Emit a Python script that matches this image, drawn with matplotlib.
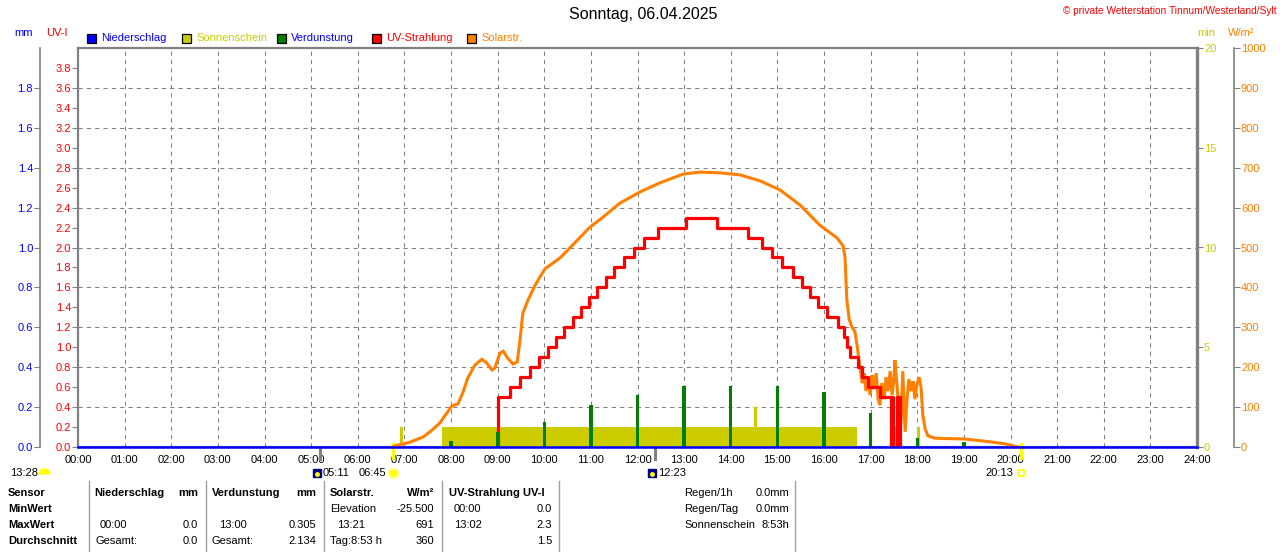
import numpy as np
import matplotlib
matplotlib.use('Agg')
import matplotlib.pyplot as plt
from matplotlib.lines import Line2D
from matplotlib.patches import Rectangle
from matplotlib.transforms import offset_copy

plt.rcParams['font.family'] = ['Liberation Sans', 'DejaVu Sans']
plt.rcParams['font.size'] = 8

# ---- data --------------------------------------------------------------
title = 'Sonntag, 06.04.2025'
station = '\u00a9 private Wetterstation Tinnum/Westerland/Sylt'

# Solarstrahlung W/m2
solar_h = [6.75, 6.80, 7.12, 7.40, 7.55, 7.76, 7.91, 8.02, 8.15, 8.26, 8.36,
           8.51, 8.66, 8.77, 8.88, 8.94, 9.05, 9.12, 9.22, 9.33, 9.42, 9.48,
           9.54, 9.65, 9.78, 9.90, 10.02, 10.34, 10.55, 10.98, 11.26, 11.62,
           12.05, 12.48, 12.98, 13.34, 13.77, 14.20, 14.63, 15.06, 15.49,
           15.91, 16.28, 16.41, 16.45, 16.49, 16.54, 16.60, 16.66, 16.71,
           16.73, 16.77, 16.82, 16.86, 16.90, 16.94, 16.99, 17.03, 17.07,
           17.12, 17.16, 17.20, 17.24, 17.29, 17.33, 17.37, 17.42, 17.46,
           17.50, 17.52, 17.57, 17.61, 17.65, 17.69, 17.74, 17.78, 17.82,
           17.87, 17.91, 17.95, 17.99, 18.04, 18.08, 18.12, 18.17, 18.23,
           18.38, 19.02, 19.56, 19.88, 20.16]
solar_w = [0, 3, 12, 25, 38, 60, 85, 103, 108, 138, 173,
           205, 220, 210, 193, 198, 235, 240, 222, 208, 213, 268,
           335, 368, 400, 425, 447, 474, 499, 551, 576, 611,
           639, 662, 684, 689, 687, 682, 667, 644, 606,
           556, 524, 504, 476, 368, 320, 300, 290, 255,
           236, 200, 160, 185, 140, 175, 130, 180, 150,
           185, 120, 105, 160, 120, 175, 140, 190, 130,
           170, 218, 150, 70, 60, 190, 38, 120, 170,
           140, 165, 120, 155, 175, 150, 80, 45, 28,
           22, 20, 13, 8, 0]

# UV-Index (steps)
uv_h = [9.00, 9.01, 9.27, 9.48, 9.69, 9.89, 10.08, 10.25, 10.42, 10.62, 10.79,
        10.96, 11.13, 11.32, 11.50, 11.71, 11.92, 12.14, 12.44, 13.04, 13.71,
        14.37, 14.67, 14.88, 15.10, 15.34, 15.53, 15.70, 15.87, 16.06, 16.30,
        16.43, 16.49, 16.56, 16.73, 16.82, 16.94, 17.20, 17.44, 17.46, 17.48,
        17.50, 17.57, 17.59, 17.61, 17.63]
uv_i = [0.0, 0.5, 0.6, 0.7, 0.8, 0.9, 1.0, 1.1, 1.2, 1.3, 1.4,
        1.5, 1.6, 1.7, 1.8, 1.9, 2.0, 2.1, 2.2, 2.3, 2.2,
        2.1, 2.0, 1.9, 1.8, 1.7, 1.6, 1.5, 1.4, 1.3, 1.2,
        1.1, 1.0, 0.9, 0.8, 0.7, 0.6, 0.5, 0.0, 0.5, 0.0,
        0.0, 0.5, 0.0, 0.5, 0.0]

# Sonnenschein in min (start, end, value)
sun_start = [6.90, 7.81, 14.50, 17.53, 18.00]
sun_end = [6.97, 16.71, 14.56, 17.56, 18.06]
sun_min = [1, 1, 2, 1, 1]

# Verdunstung mm per hour
evap_h = [8, 9, 10, 11, 12, 13, 14, 15, 16, 17, 18, 19]
evap_mm = [0.03, 0.075, 0.125, 0.21, 0.26, 0.305, 0.305, 0.305, 0.276, 0.17,
           0.045, 0.025]

# Niederschlag mm
rain_h = [0, 24]
rain_mm = [0.0, 0.0]

# sun / moon events
moon_times = [5 + 11 / 60, 12 + 23 / 60]
moon_labels = ['05:11', '12:23']
sunrise, sunrise_label = 6.75, '06:45'
sunset, sunset_label = 20 + 13 / 60, '20:13'
day_length = '13:28'

uv_ticks = [round(0.2 * i, 1) for i in range(20)]
mm_ticks = [round(0.2 * i, 1) for i in range(10)]
min_ticks = [0, 5, 10, 15, 20]
w_ticks = list(range(0, 1001, 100))
hours = list(range(25))

legend_labels = ['Niederschlag', 'Sonnenschein', 'Verdunstung', 'UV-Strahlung', 'Solarstr.']
legend_box = ['#0000ff', '#cccc00', '#008000', '#ff0000', '#ff8000']
legend_txt = ['#0000ff', '#cccc00', '#0000ff', '#ff0000', '#ff8000']

# table below the chart
table_rows = ['Sensor', 'MinWert', 'MaxWert', 'Durchschnitt']
tbl = [
    # (x, ha, bold, row, text)
    (94, 'left', True, 0, 'Niederschlag'), (198, 'right', True, 0, 'mm'),
    (100, 'left', False, 2, '00:00'), (198, 'right', False, 2, '0.0'),
    (95, 'left', False, 3, 'Gesamt:'), (198, 'right', False, 3, '0.0'),
    (212, 'left', True, 0, 'Verdunstung'), (316, 'right', True, 0, 'mm'),
    (219, 'left', False, 2, '13:00'), (316, 'right', False, 2, '0.305'),
    (212, 'left', False, 3, 'Gesamt:'), (316, 'right', False, 3, '2.134'),
    (330, 'left', True, 0, 'Solarstr.'), (434, 'right', True, 0, 'W/m\u00b2'),
    (330, 'left', False, 1, 'Elevation'), (434, 'right', False, 1, '-25.500'),
    (337, 'left', False, 2, '13:21'), (434, 'right', False, 2, '691'),
    (330, 'left', False, 3, 'Tag:8:53 h'), (434, 'right', False, 3, '360'),
    (449, 'left', True, 0, 'UV-Strahlung UV-I'),
    (454, 'left', False, 1, '00:00'), (552, 'right', False, 1, '0.0'),
    (454, 'left', False, 2, '13:02'), (552, 'right', False, 2, '2.3'),
    (552, 'right', False, 3, '1.5'),
    (684, 'left', False, 0, 'Regen/1h'), (789, 'right', False, 0, '0.0mm'),
    (684, 'left', False, 1, 'Regen/Tag'), (789, 'right', False, 1, '0.0mm'),
    (684, 'left', False, 2, 'Sonnenschein'), (789, 'right', False, 2, '8:53h'),
]
row_y = [493, 509, 525, 541]
sep_x = [89, 206, 324, 442, 559, 795]

GRAY = '#808080'


def fx(px):
    return px / 1280


def fy(py):
    return 1 - py / 552


fig = plt.figure(figsize=(12.8, 5.52), dpi=100)
ax = fig.add_axes([fx(78), fy(447), 1119 / 1280, 399 / 552])
ax.set_xlim(0, 24)
ax.set_ylim(0, 4)

# grid
for h in hours[1:-1]:
    ax.axvline(h, color=GRAY, lw=0.75, ls=(0, (4, 4)), zorder=0)
for v in uv_ticks[2::2]:
    ax.axhline(v, color=GRAY, lw=0.75, ls=(0, (4, 4)), zorder=0)

ax.set_xticks(hours)
ax.set_xticklabels(['%02d:00' % h for h in hours])
ax.tick_params(axis='x', length=0, pad=6)
ax.set_yticks(uv_ticks)
ax.set_yticklabels(['%.1f' % v for v in uv_ticks])
ax.tick_params(axis='y', length=4, color=GRAY, labelcolor='#ff0000', pad=1)
for s in ['top', 'left', 'bottom']:
    ax.spines[s].set_color(GRAY)
    ax.spines[s].set_linewidth(1.6)
ax.spines['right'].set_visible(False)

# sunshine (min)
ax_min = ax.twinx()
ax_min.set_ylim(0, 20)
ax_min.bar(sun_start, sun_min, width=np.subtract(sun_end, sun_start),
           align='edge', color='#cccc00', linewidth=0)
ax_min.set_yticks(min_ticks)
ax_min.tick_params(axis='y', length=4, color=GRAY, labelcolor='#cccc00', pad=1)
for s in ['top', 'left', 'bottom']:
    ax_min.spines[s].set_visible(False)
ax_min.spines['right'].set_color(GRAY)
ax_min.spines['right'].set_linewidth(2.4)

# solar radiation
ax_w = ax.twinx()
ax_w.set_ylim(0, 1000)
ax_w.plot(solar_h, solar_w, color='#ff8000', lw=2.2, solid_joinstyle='miter')
ax_w.set_yticks(w_ticks)
ax_w.tick_params(axis='y', length=4, color=GRAY, labelcolor='#ff8000', pad=1)
for s in ['top', 'left', 'bottom']:
    ax_w.spines[s].set_visible(False)
ax_w.spines['right'].set_position(('axes', 1 + 37 / 1119))
ax_w.spines['right'].set_color(GRAY)
ax_w.spines['right'].set_linewidth(1.2)

# UV line
ax_uv = ax.twinx()
ax_uv.set_ylim(0, 4)
ax_uv.step(uv_h, uv_i, where='post', color='#ff0000', lw=2.3)
ax_uv.set_axis_off()

# evaporation + precipitation (mm)
ax_mm = ax.twinx()
ax_mm.set_ylim(0, 2)
ax_mm.bar(evap_h, evap_mm, width=0.075, color='#008000', linewidth=0)
ax_mm.plot(rain_h, rain_mm, color='#0000ff', lw=1.8, clip_on=False)
ax_mm.yaxis.tick_left()
ax_mm.set_yticks(mm_ticks)
ax_mm.set_yticklabels(['%.1f' % v for v in mm_ticks])
ax_mm.tick_params(axis='y', length=4, color=GRAY, labelcolor='#0000ff', pad=1)
for s in ['top', 'right', 'bottom']:
    ax_mm.spines[s].set_visible(False)
ax_mm.spines['left'].set_visible(True)
ax_mm.spines['left'].set_position(('axes', -38 / 1119))
ax_mm.spines['left'].set_color(GRAY)
ax_mm.spines['left'].set_linewidth(1.2)

# sun / moon markers below the axis
xt = ax.get_xaxis_transform()
ylab = -26 / 399
for t, lab in zip(moon_times, moon_labels):
    ax.plot([t, t], [0, -12 / 399], color=GRAY, lw=2.2, clip_on=False,
            transform=xt)
    ax.plot([t], [ylab], marker='s', ms=6, color='#000080', clip_on=False,
            transform=offset_copy(xt, fig=fig, x=-3, y=0, units='dots'))
    ax.plot([t], [ylab], marker='o', ms=2.5, color='#ffff00', clip_on=False,
            transform=offset_copy(xt, fig=fig, x=-3, y=-1, units='dots'))
    ax.annotate(lab, xy=(t, ylab), xycoords=xt, xytext=(2, 0),
                textcoords='offset points', ha='left', va='center')

ax.plot([sunrise, sunrise], [3 / 399, -11 / 399], color='#ffff00', lw=2.2,
        clip_on=False, transform=xt)
ax.plot([sunrise], [ylab], marker='o', ms=7, mfc='#ffff00', mec='#ffffa0',
        mew=1.5, clip_on=False, transform=xt)
ax.annotate(sunrise_label, xy=(sunrise, ylab), xycoords=xt, xytext=(-5, 0),
            textcoords='offset points', ha='right', va='center')
ax.plot([sunset, sunset], [3 / 399, -11 / 399], color='#ffff00', lw=2.2,
        clip_on=False, transform=xt)
ax.plot([sunset], [ylab], marker='s', ms=4, mfc='white', mec='#ffff00',
        mew=1.2, clip_on=False, transform=xt)
ax.annotate(sunset_label, xy=(sunset, ylab), xycoords=xt, xytext=(-5, 0),
            textcoords='offset points', ha='right', va='center')

fig.text(fx(10), fy(473), day_length, ha='left', va='center')
fig.add_artist(Line2D([fx(44)], [fy(474)], marker='o', fillstyle='top',
                      markerfacecoloralt='none', mfc='#ffff00', mec='none',
                      ms=9, transform=fig.transFigure))

# titles and axis units
fig.text(fx(643), fy(15), title, ha='center', va='center', fontsize=11.5)
fig.text(fx(1277), fy(11), station, ha='right', va='center', fontsize=7.3,
         color='#ff0000')
fig.text(fx(14), fy(33), 'mm', color='#0000ff', va='center')
fig.text(fx(46), fy(33), 'UV-I', color='#ff0000', va='center')
fig.text(fx(1197), fy(33), 'min', color='#cccc00', va='center')
fig.text(fx(1228), fy(33), 'W/m\u00b2', color='#ff8000', va='center')

# legend
legend_x = [87, 182, 277, 372, 467]
for x, lab, bc, tc in zip(legend_x, legend_labels, legend_box, legend_txt):
    fig.add_artist(Rectangle((fx(x), fy(43)), 9 / 1280, 9 / 552,
                             transform=fig.transFigure, fc=bc, ec='black', lw=0.9))
    fig.text(fx(x + 14), fy(38), lab, color=tc, va='center')

# table
for i, r in enumerate(table_rows):
    fig.text(fx(8), fy(row_y[i]), r, ha='left', va='center', fontweight='bold')
for x, ha, bold, row, txt in tbl:
    fig.text(fx(x), fy(row_y[row]), txt, ha=ha, va='center',
             fontweight='bold' if bold else 'normal')
for x in sep_x:
    fig.add_artist(Line2D([fx(x), fx(x)], [fy(481), 0], color='#a0a0a0',
                          lw=1, transform=fig.transFigure))

fig.savefig('out.png', dpi=100)
